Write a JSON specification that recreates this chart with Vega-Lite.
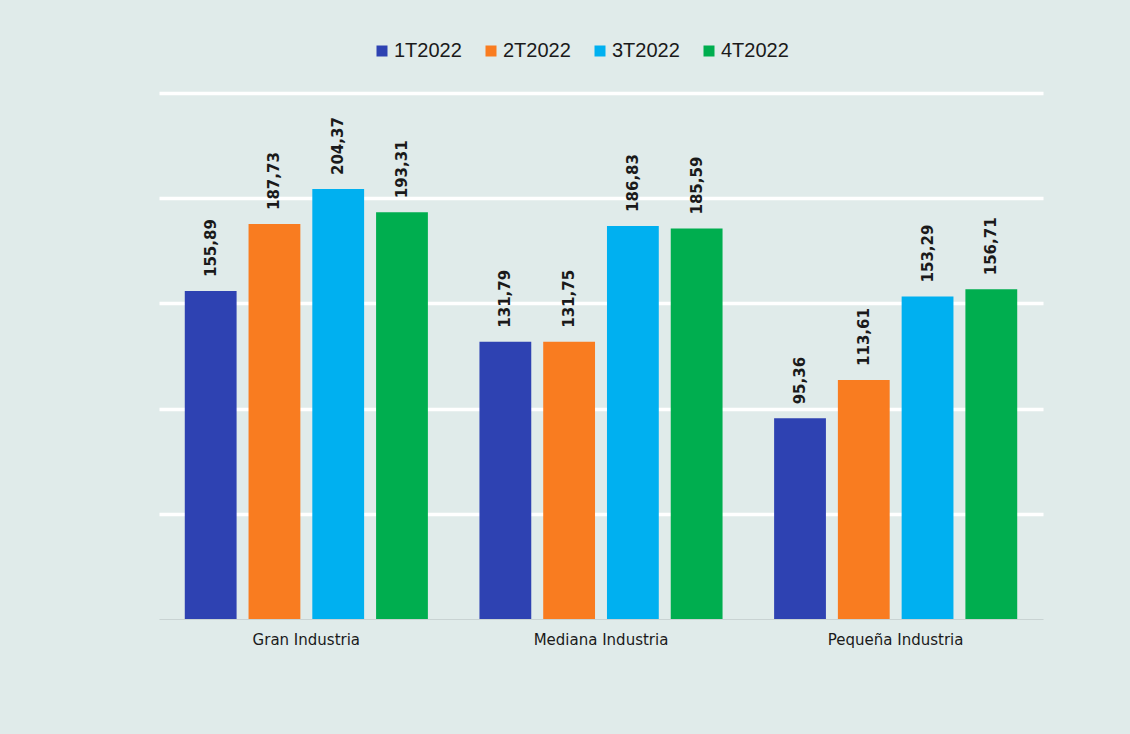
{
  "$schema": "https://vega.github.io/schema/vega-lite/v6.json",
  "width": 884,
  "height": 526,
  "autosize": {"type": "none"},
  "padding": {"left": 159, "top": 93, "right": 87, "bottom": 115},
  "background": "#e0ebea",
  "config": {
    "view": {"stroke": null},
    "locale": {"number": {"decimal": ",", "thousands": ".", "grouping": [3], "currency": ["", " €"]}}
  },
  "data": {"values": [
    {"cat": "Gran Industria", "q": "1T2022", "v": 155.89},
    {"cat": "Gran Industria", "q": "2T2022", "v": 187.73},
    {"cat": "Gran Industria", "q": "3T2022", "v": 204.37},
    {"cat": "Gran Industria", "q": "4T2022", "v": 193.31},
    {"cat": "Mediana Industria", "q": "1T2022", "v": 131.79},
    {"cat": "Mediana Industria", "q": "2T2022", "v": 131.75},
    {"cat": "Mediana Industria", "q": "3T2022", "v": 186.83},
    {"cat": "Mediana Industria", "q": "4T2022", "v": 185.59},
    {"cat": "Pequeña Industria", "q": "1T2022", "v": 95.36},
    {"cat": "Pequeña Industria", "q": "2T2022", "v": 113.61},
    {"cat": "Pequeña Industria", "q": "3T2022", "v": 153.29},
    {"cat": "Pequeña Industria", "q": "4T2022", "v": 156.71}
  ]},
  "encoding": {
    "x": {"field": "cat", "type": "nominal", "sort": null, "title": null,
      "scale": {"paddingInner": 0.175, "paddingOuter": 0.0875},
      "axis": {"labelAngle": 0, "ticks": false, "domainColor": "#c9d3d3", "domainWidth": 1, "labelPadding": 13,
        "labelFont": "DejaVu Sans", "labelFontSize": 15, "labelColor": "#1a1a1a"}},
    "xOffset": {"field": "q", "type": "nominal", "scale": {"paddingInner": 0.1875, "paddingOuter": 0}},
    "y": {"field": "v", "type": "quantitative", "title": null,
      "scale": {"domain": [0, 250], "nice": false},
      "axis": {"values": [50, 100, 150, 200, 250], "labels": false, "ticks": false, "domain": false,
        "gridColor": "#ffffff", "gridWidth": 3.5, "gridOpacity": 1}}
  },
  "layer": [
    {"mark": {"type": "bar"},
     "encoding": {
       "color": {"field": "q", "type": "nominal", "title": null,
         "scale": {"domain": ["1T2022", "2T2022", "3T2022", "4T2022"], "range": ["#2e42b2", "#f97c20", "#00b0f0", "#00ae4f"]},
         "legend": {"orient": "none", "legendX": 213, "legendY": -52, "direction": "horizontal", "columns": 4,
           "symbolType": "square", "symbolSize": 121, "symbolStrokeWidth": 0, "labelFont": "Liberation Sans",
           "labelFontSize": 20, "labelColor": "#1a1a1a", "labelOffset": 2, "columnPadding": 19, "labelLimit": 200}}
     }},
    {"mark": {"type": "text", "angle": 270, "align": "left", "baseline": "middle", "dx": 14,
       "font": "DejaVu Sans", "fontSize": 15, "fontWeight": "bold", "color": "#1a1a1a"},
     "encoding": {"text": {"field": "v", "type": "quantitative", "format": ".2f"}}}
  ]
}
